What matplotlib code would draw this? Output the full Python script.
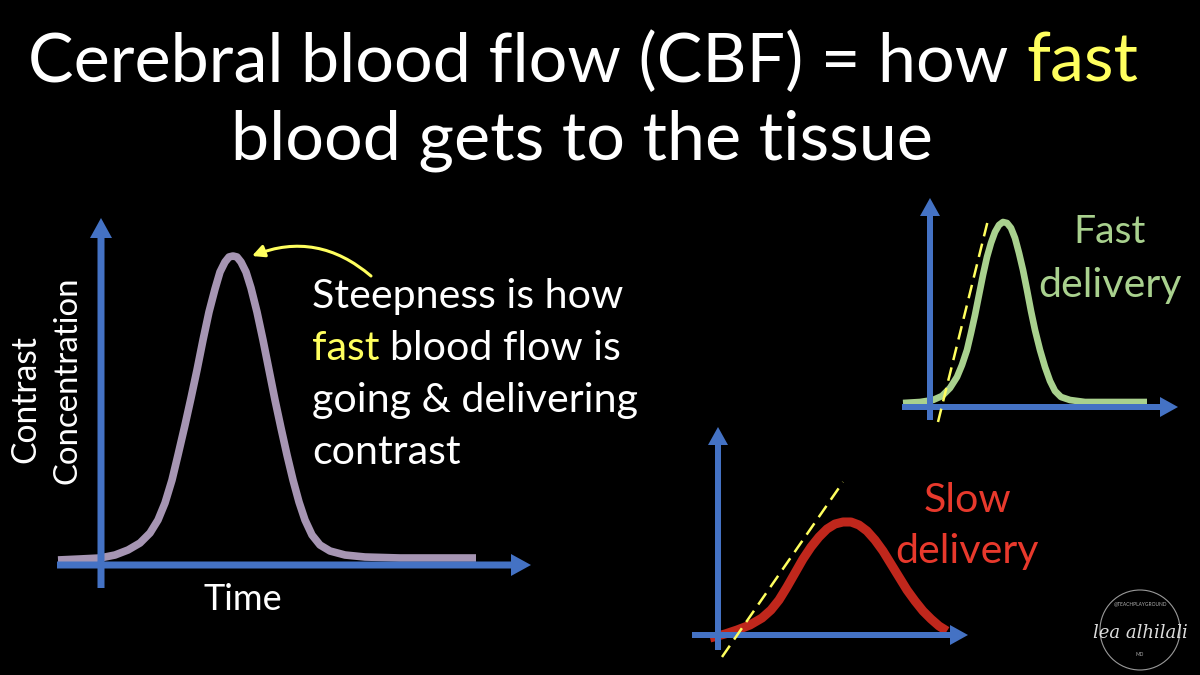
import numpy as np
import matplotlib
matplotlib.use("Agg")
import matplotlib.pyplot as plt
from matplotlib.patches import Circle

plt.rcParams['font.family'] = ['Lato', 'DejaVu Sans']

# ---- data (time / concentration in arbitrary units) ----
main_time = [-43, -21, -1, 14, 27, 39, 49, 57, 64, 71, 77, 84, 90, 96, 102, 108,
             114, 119, 124, 128, 132, 136, 140, 145, 150, 156, 162, 168, 174,
             180, 186, 192, 198, 204, 211, 219, 229, 244, 264, 299, 375]
main_conc = [5, 6, 7, 10, 15, 22, 32, 45, 62, 85, 110, 140, 167, 195, 225, 253,
             276, 293, 303, 308, 309, 308, 303, 293, 277, 253, 225, 195, 165,
             137, 110, 85, 63, 45, 30, 20, 14, 10, 8, 7, 7]

fast_time = [-27, -10, 3, 12, 20, 27, 32, 37, 41, 45, 49, 53, 57, 61, 65, 69, 73,
             77, 81, 85, 89, 93, 97, 101, 105, 110, 115, 120, 125, 131, 140, 155, 217]
fast_conc = [4, 5, 7, 11, 19, 30, 42, 57, 74, 92, 112, 132, 150, 164, 175, 182, 185,
             184, 179, 169, 154, 137, 117, 96, 77, 57, 40, 26, 16, 10, 7, 5, 5]
fast_tangent_t = [8, 58]
fast_tangent_c = [-15, 187]

slow_time = [-8, 7, 19, 32, 44, 53, 61, 69, 77, 85, 93, 101, 109, 117, 125, 133,
             141, 149, 157, 165, 173, 181, 189, 197, 205, 213, 221, 229]
slow_conc = [-3, 1, 5, 10, 17, 25, 35, 48, 62, 76, 88, 98, 106, 111, 113, 113,
             110, 104, 95, 84, 71, 58, 45, 34, 24, 16, 9, 4]
slow_tangent_t = [4, 125]
slow_tangent_c = [-22, 153]

BLUE = '#4472C4'
PURPLE = '#A695B3'
GREEN = '#A9D18E'
RED = '#C0271C'
RED_TXT = '#E8392C'
YELLOW = '#FFFF5E'

W, H = 1200, 675
fig = plt.figure(figsize=(12, 6.75), dpi=100)
fig.patch.set_facecolor('black')

over = fig.add_axes([0, 0, 1, 1])
over.set_xlim(0, W)
over.set_ylim(H, 0)
over.axis('off')
over.set_facecolor('black')


def chart_axes(left, top, right, bottom, x0, y0):
    # 1 data unit == 1 pixel, origin at (x0, y0) on the slide
    ax = fig.add_axes([left / W, 1 - bottom / H, (right - left) / W, (bottom - top) / H])
    ax.set_xlim(left - x0, right - x0)
    ax.set_ylim(y0 - bottom, y0 - top)
    ax.axis('off')
    ax.patch.set_alpha(0)
    return ax


def axis_arrows(ax, x_from, x_to, y_from, y_to, w=7, hw=22, hl=20):
    ax.arrow(x_from, 0, x_to - x_from, 0, width=w, head_width=hw, head_length=hl,
             length_includes_head=True, fc=BLUE, ec='none', zorder=3)
    ax.arrow(0, y_from, 0, y_to - y_from, width=w, head_width=hw, head_length=hl,
             length_includes_head=True, fc=BLUE, ec='none', zorder=3)


renderer = fig.canvas.get_renderer()


def fit(t, width):
    w = t.get_window_extent(renderer).width
    t.set_fontsize(t.get_fontsize() * width / w)
    return t.get_fontsize()


# ---- title ----
t1 = over.text(28, 82, "Cerebral blood flow (CBF) = how fast", color='white',
               fontsize=55, va='baseline', ha='left')
fs_title = fit(t1, 1109)
right = t1.get_window_extent(renderer).x1
t1.set_text("Cerebral blood flow (CBF) = how")
over.text(right, 82, "fast", color=YELLOW, fontsize=fs_title, va='baseline', ha='right')
over.text(582, 160, "blood gets to the tissue", color='white', fontsize=fs_title,
          va='baseline', ha='center')

# ---- main chart ----
ax = chart_axes(40, 205, 545, 600, 101, 565)
ax.plot(main_time, main_conc, color=PURPLE, lw=5.5, solid_capstyle='butt',
        solid_joinstyle='round', zorder=2)
axis_arrows(ax, -44, 430, -23, 347)
pk = int(np.argmax(main_conc))
ax.annotate('', xy=(main_time[pk] + 19, main_conc[pk]),
            xytext=(main_time[pk] + 138, main_conc[pk] - 20),
            arrowprops=dict(arrowstyle='-|>', color=YELLOW, lw=2.2, mutation_scale=18,
                            connectionstyle='arc3,rad=0.3', shrinkA=0, shrinkB=0))

# annotation text
ref = over.text(312, 412, "going & delivering", color='white', fontsize=30,
                va='baseline', ha='left')
fs = fit(ref, 325)
over.text(312, 308, "Steepness is how", color='white', fontsize=fs, va='baseline')
tmp = over.text(312, 360, "fast blood flow is", color='white', fontsize=fs, va='baseline')
r2 = tmp.get_window_extent(renderer).x1
tmp.set_text("fast")
tmp.set_color(YELLOW)
over.text(r2, 360, "blood flow is", color='white', fontsize=fs, va='baseline', ha='right')
over.text(312, 464, "contrast", color='white', fontsize=fs, va='baseline')

over.text(25, 399, "Contrast", color='white', fontsize=fs * 0.82, rotation=90,
          ha='center', va='center')
over.text(67, 380, "Concentration", color='white', fontsize=fs * 0.8, rotation=90,
          ha='center', va='center')
over.text(243, 610, "Time", color='white', fontsize=fs * 0.88, ha='center', va='baseline')

# ---- fast delivery chart ----
axf = chart_axes(890, 190, 1195, 430, 930, 407)
axf.plot(fast_time, fast_conc, color=GREEN, lw=4.8, solid_capstyle='butt',
         solid_joinstyle='round', zorder=2)
axis_arrows(axf, -28, 248, -13, 209, w=6, hw=20, hl=18)
axf.plot(fast_tangent_t, fast_tangent_c, color=YELLOW, lw=1.8,
         linestyle=(0, (5.5, 3)), zorder=4)
over.text(1110, 243, "Fast", color=GREEN, fontsize=fs * 0.95, ha='center', va='baseline')
over.text(1110, 297, "delivery", color=GREEN, fontsize=fs, ha='center', va='baseline')

# ---- slow delivery chart ----
axs = chart_axes(680, 415, 985, 665, 718, 635)
axs.plot(slow_time, slow_conc, color=RED, lw=6.5, solid_capstyle='butt',
         solid_joinstyle='round', zorder=2)
axis_arrows(axs, -26, 250, -15, 208, w=6, hw=20, hl=18)
axs.plot(slow_tangent_t, slow_tangent_c, color=YELLOW, lw=1.8,
         linestyle=(0, (5.5, 3)), zorder=4)
over.text(967, 512, "Slow", color=RED_TXT, fontsize=fs, ha='center', va='baseline')
over.text(967, 563, "delivery", color=RED_TXT, fontsize=fs, ha='center', va='baseline')

# ---- watermark ----
over.add_patch(Circle((1140, 630), 40, fill=False, ec='#9a9a9a', lw=0.8))
over.text(1140, 604, "@TEACHPLAYGROUND", color='#b0b0b0', fontsize=3.5,
          ha='center', va='center')
over.text(1140, 633, "lea alhilali", color='#dddddd', fontsize=13, style='italic',
          ha='center', va='center', family=['DejaVu Serif'])
over.text(1140, 654, "MD", color='#b0b0b0', fontsize=3.5, ha='center', va='center')

fig.savefig('out.png', dpi=100, facecolor='black')
